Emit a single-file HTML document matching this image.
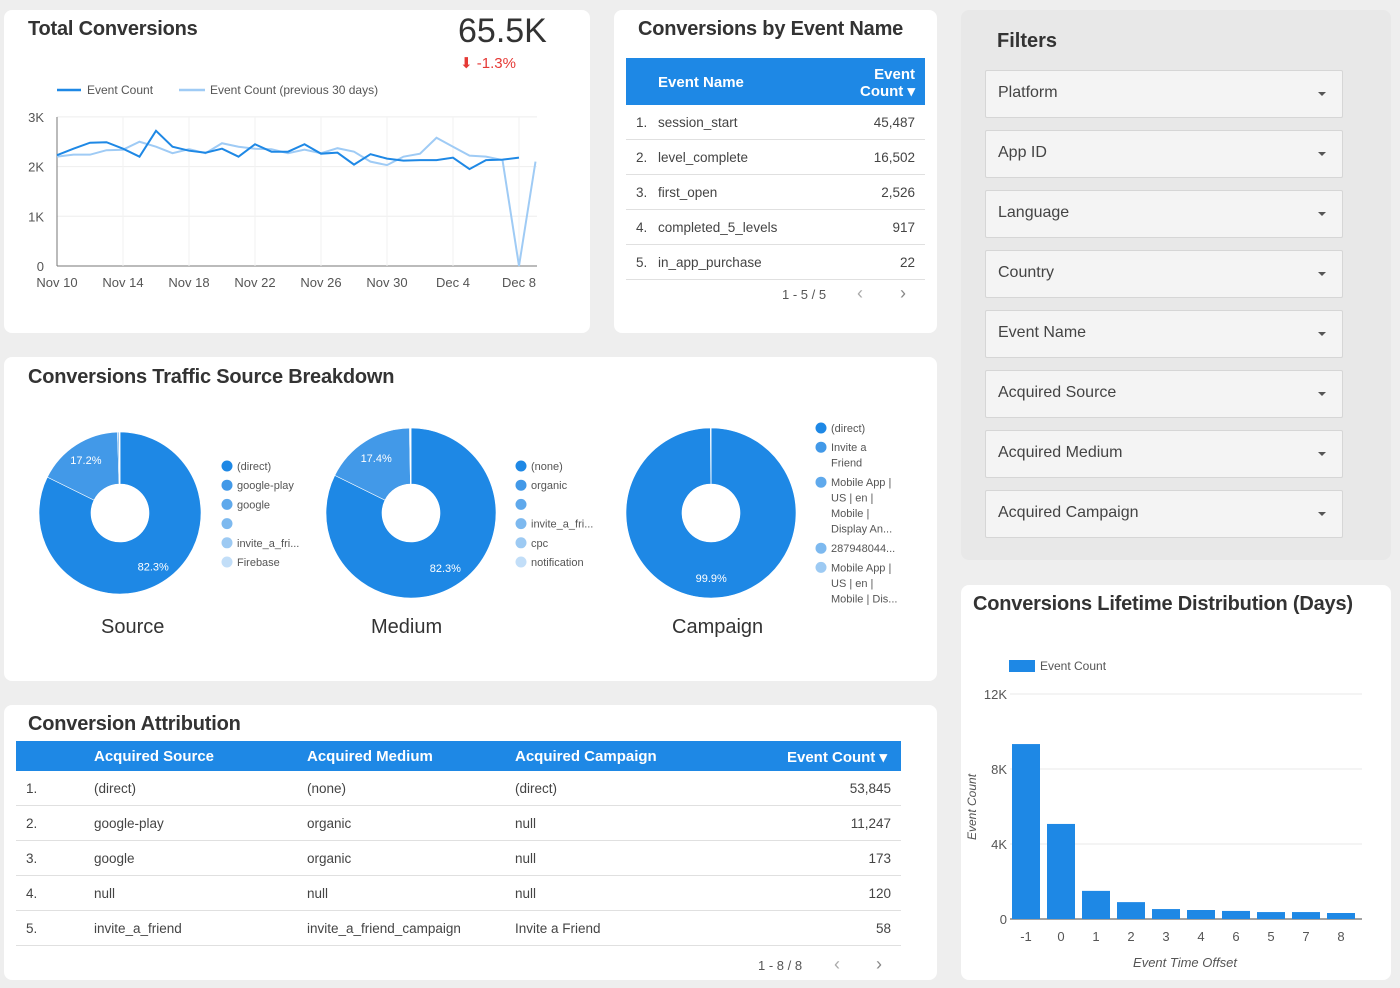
<!DOCTYPE html>
<html><head><meta charset="utf-8">
<style>
body{margin:0;width:1400px;height:988px;background:#eeeeee;font-family:"Liberation Sans",sans-serif;position:relative;overflow:hidden;color:#333}
.card{position:absolute;background:#fff;border-radius:8px}
.abs{position:absolute;white-space:nowrap}
.title{font-size:20px;color:#333;font-weight:bold;letter-spacing:-0.2px}
.hdr{position:absolute;background:#1e88e5;color:#fff;font-weight:bold;font-size:15px}
.row{position:absolute;font-size:13.5px;color:#444;border-bottom:1px solid #e0e0e0}
.dd{position:absolute;left:985px;width:356px;height:46px;border:1px solid #d6d6d6;background:#f4f4f4;border-radius:2px;font-size:16px;color:#444}
.dd span{position:absolute;left:12px;top:13px}
.dd i{position:absolute;right:16px;top:21px;border-left:4px solid transparent;border-right:4px solid transparent;border-top:4px solid #555}
</style></head><body>

<div class="card" style="left:4px;top:10px;width:586px;height:323px"></div>
<div class="card" style="left:614px;top:10px;width:323px;height:323px"></div>
<div class="card" style="left:961px;top:10px;width:430px;height:550px;background:#e8e8e8"></div>
<div class="card" style="left:4px;top:357px;width:933px;height:324px"></div>
<div class="card" style="left:4px;top:705px;width:933px;height:275px"></div>
<div class="card" style="left:961px;top:585px;width:430px;height:395px"></div>

<div class="abs title" style="left:28px;top:18px">Total Conversions</div>
<div class="abs" style="left:458px;top:12px;font-size:34px;color:#333">65.5K</div>
<div class="abs" style="left:460px;top:54px;font-size:15px;color:#e53935">⬇ -1.3%</div>

<svg class="abs" style="left:0;top:0" width="600" height="300" id="lc"></svg>

<div class="abs title" style="left:638px;top:18px">Conversions by Event Name</div>
<div class="hdr" style="left:626px;top:58px;width:299px;height:47px">
 <span class="abs" style="left:32px;top:16px">Event Name</span>
 <span class="abs" style="right:10px;top:8px;text-align:right;line-height:17px">Event<br>Count ▾</span>
</div>
<div id="et"></div>
<div class="abs" style="left:782px;top:287px;font-size:13px;color:#555">1 - 5 / 5</div>
<div class="abs" style="left:857px;top:283px;font-size:18px;color:#aaa">‹</div>
<div class="abs" style="left:900px;top:283px;font-size:18px;color:#888">›</div>

<div class="abs" style="left:997px;top:30px;font-size:20px;font-weight:bold;color:#333">Filters</div>
<div id="filters"></div>

<div class="abs title" style="left:28px;top:366px">Conversions Traffic Source Breakdown</div>
<svg class="abs" style="left:0;top:400px" width="940" height="250" id="donuts"></svg>
<div class="abs" style="left:101px;top:616px;font-size:20px;color:#333">Source</div>
<div class="abs" style="left:371px;top:616px;font-size:20px;color:#333">Medium</div>
<div class="abs" style="left:672px;top:616px;font-size:20px;color:#333">Campaign</div>

<div class="abs title" style="left:28px;top:713px">Conversion Attribution</div>
<div class="hdr" style="left:16px;top:741px;width:885px;height:30px">
 <span class="abs" style="left:78px;top:7px">Acquired Source</span>
 <span class="abs" style="left:291px;top:7px">Acquired Medium</span>
 <span class="abs" style="left:499px;top:7px">Acquired Campaign</span>
 <span class="abs" style="right:14px;top:7px">Event Count ▾</span>
</div>
<div id="at"></div>
<div class="abs" style="left:758px;top:958px;font-size:13px;color:#555">1 - 8 / 8</div>
<div class="abs" style="left:834px;top:954px;font-size:18px;color:#aaa">‹</div>
<div class="abs" style="left:876px;top:954px;font-size:18px;color:#888">›</div>

<div class="abs title" style="left:973px;top:593px">Conversions Lifetime Distribution (Days)</div>
<svg class="abs" style="left:960px;top:640px" width="420" height="340" id="bc"></svg>

<script>
const NS="http://www.w3.org/2000/svg";
function mk(p,t,a,txt){const e=document.createElementNS(NS,t);for(const k in a)e.setAttribute(k,a[k]);if(txt!==undefined)e.textContent=txt;p.appendChild(e);return e;}

// ---- line chart data
const lineDates=["Nov 10","Nov 14","Nov 18","Nov 22","Nov 26","Nov 30","Dec 4","Dec 8"];
const lineYTicks=[0,1000,2000,3000];
const lineYLabels=["0","1K","2K","3K"];
const currentSeries=[2230,2360,2480,2490,2360,2200,2720,2400,2320,2280,2360,2200,2450,2300,2300,2450,2260,2280,2040,2250,2160,2120,2130,2130,2180,1950,2130,2140,2180];
const previousSeries=[2200,2240,2240,2330,2340,2500,2400,2270,2350,2270,2470,2400,2360,2350,2270,2340,2270,2370,2300,2100,2030,2200,2260,2580,2400,2220,2200,2130,0,2100];
(function(){
 const s=document.getElementById('lc');
 const x=i=>57+i*16.5, y=v=>266-v/1000*49.7;
 lineYTicks.forEach((t,i)=>{
  const g=mk(s,'line',{x1:57,x2:537,y1:y(t),y2:y(t),stroke:i?'#eee':'#777','stroke-width':1});
  
  const l=mk(s,'text',{x:44,y:y(t)+5,'text-anchor':'end','font-size':13,fill:'#555'},lineYLabels[i]);
  
 });
 lineDates.forEach((d,i)=>{
  mk(s,'line',{x1:x(i*4),x2:x(i*4),y1:117,y2:266,stroke:'#f2f2f2'});
  const l=mk(s,'text',{x:x(i*4),y:287,'text-anchor':'middle','font-size':13,fill:'#555'},d);
  
 });
 mk(s,'line',{x1:57,x2:57,y1:117,y2:266,stroke:'#777'});
 const p1=mk(s,'polyline',{points:previousSeries.map((v,i)=>x(i)+','+y(v)).join(' '),fill:'none',stroke:'#9fcbf5','stroke-width':2});
 
 const p0=mk(s,'polyline',{points:currentSeries.map((v,i)=>x(i)+','+y(v)).join(' '),fill:'none',stroke:'#1e88e5','stroke-width':2});
 
 mk(s,'line',{x1:57,x2:81,y1:90,y2:90,stroke:'#1e88e5','stroke-width':2.5});
 const a=mk(s,'text',{x:87,y:94,'font-size':12,fill:'#555'},'Event Count');
 
 mk(s,'line',{x1:179,x2:205,y1:90,y2:90,stroke:'#9fcbf5','stroke-width':2.5});
 const b=mk(s,'text',{x:210,y:94,'font-size':12,fill:'#555'},'Event Count (previous 30 days)');
 
})();

// ---- event table
const eventNames=["session_start","level_complete","first_open","completed_5_levels","in_app_purchase"];
const eventCounts=["45,487","16,502","2,526","917","22"];
(function(){
 const c=document.getElementById('et');
 eventNames.forEach((n,i)=>{
  const r=document.createElement('div');r.className='row';
  
  
  r.style.cssText=`left:626px;top:${105+i*35}px;width:299px;height:34px`;
  r.innerHTML=`<span class="abs" style="left:10px;top:10px">${i+1}.</span><span class="abs" style="left:32px;top:10px">${n}</span><span class="abs" style="right:10px;top:10px">${eventCounts[i]}</span>`;
  c.appendChild(r);
 });
})();

// ---- filters
const filterNames=["Platform","App ID","Language","Country","Event Name","Acquired Source","Acquired Medium","Acquired Campaign"];
(function(){
 const c=document.getElementById('filters');
 filterNames.forEach((n,i)=>{
  const d=document.createElement('div');d.className='dd';
  
  
  d.style.top=(70+i*60)+'px';
  d.innerHTML=`<span>${n}</span><i></i>`;
  c.appendChild(d);
 });
})();

// ---- donuts
const sourceShares=[82.3,17.2,0.3,0.1,0.05,0.05];
const sourceLabels=["(direct)","google-play","google","","invite_a_fri...","Firebase"];
const mediumShares=[82.3,17.4,0.15,0.1,0.03,0.02];
const mediumLabels=["(none)","organic","","invite_a_fri...","cpc","notification"];
const campaignShares=[99.9,0.05,0.03,0.01,0.01];
const campaignLabels=["(direct)","Invite a;Friend","Mobile App |;US | en |;Mobile |;Display An...","287948044...","Mobile App |;US | en |;Mobile | Dis..."];
const shades=["#1e88e5","#4299e8","#5fa9ec","#7db9ef","#9dcaf3","#c2def8"];
(function(){
 const s=document.getElementById('donuts');
 function donut(cx,cy,r,hole,vals,name){
  const tot=vals.reduce((a,b)=>a+b,0);let a0=-Math.PI/2;
  vals.forEach((v,i)=>{
   const a1=a0+v/tot*2*Math.PI;
   const large=(a1-a0)>Math.PI?1:0;
   const pt=(a,rr)=>[cx+rr*Math.cos(a),cy+rr*Math.sin(a)];
   const [x0,y0]=pt(a0,r),[x1,y1]=pt(a1,r),[x2,y2]=pt(a1,hole),[x3,y3]=pt(a0,hole);
   let d;
   if(v/tot>0.9999){d=`M${cx-r},${cy}A${r},${r} 0 1 1 ${cx+r},${cy}A${r},${r} 0 1 1 ${cx-r},${cy}Z`;}
   else d=`M${x0},${y0}A${r},${r} 0 ${large} 1 ${x1},${y1}L${x2},${y2}A${hole},${hole} 0 ${large} 0 ${x3},${y3}Z`;
   const p=mk(s,'path',{d,fill:shades[i],stroke:'#fff','stroke-width':0.6,'fill-rule':'evenodd'});
   
   if(v/tot>0.1){
    const am=(a0+a1)/2,rm=(r+hole)/2+8;
    const t=mk(s,'text',{x:cx+rm*Math.cos(am),y:cy+rm*Math.sin(am)+4,'text-anchor':'middle','font-size':11,fill:'#fff'},v.toFixed(1)+'%');
    
   }
   a0=a1;
  });
  mk(s,'circle',{cx,cy,r:hole,fill:'#fff'});
 }
 function legend(x,y0,labels,name){
  let y=y0;
  labels.forEach((l,i)=>{
   mk(s,'circle',{cx:x,cy:y,r:5.5,fill:shades[i]});
   const parts=l.split(';');
   parts.forEach((p,j)=>{
    const t=mk(s,'text',{x:x+10,y:y+4+j*15.5,'font-size':11,fill:'#555'},p);
    
   });
   y+=parts.length*15.5+(parts.length>1?4:3.7);
  });
 }
 donut(120,113,81,29,sourceShares,'source');
 legend(227,66,sourceLabels,'source');
 donut(411,113,85,29,mediumShares,'medium');
 legend(521,66,mediumLabels,'medium');
 donut(711,113,85,29,campaignShares,'campaign');
 legend(821,28,campaignLabels,'campaign');
})();

// ---- attribution table
const attrSource=["(direct)","google-play","google","null","invite_a_friend"];
const attrMedium=["(none)","organic","organic","null","invite_a_friend_campaign"];
const attrCampaign=["(direct)","null","null","null","Invite a Friend"];
const attrCount=["53,845","11,247","173","120","58"];
(function(){
 const c=document.getElementById('at');
 attrSource.forEach((n,i)=>{
  const r=document.createElement('div');r.className='row';
  
  
  r.style.cssText=`left:16px;top:${771+i*35}px;width:885px;height:34px`;
  r.innerHTML=`<span class="abs" style="left:10px;top:10px">${i+1}.</span><span class="abs" style="left:78px;top:10px">${n}</span><span class="abs" style="left:291px;top:10px">${attrMedium[i]}</span><span class="abs" style="left:499px;top:10px">${attrCampaign[i]}</span><span class="abs" style="right:10px;top:10px">${attrCount[i]}</span>`;
  c.appendChild(r);
 });
})();

// ---- bar chart
const barCategories=["-1","0","1","2","3","4","6","5","7","8"];
const barValues=[9330,5070,1500,900,530,480,430,370,370,320];
const barYTicks=[0,4000,8000,12000];
const barYLabels=["0","4K","8K","12K"];
(function(){
 const s=document.getElementById('bc');
 const y=v=>279-v/1000*18.75, x0=52, step=35;
 barYTicks.forEach((t,i)=>{
  mk(s,'line',{x1:50,x2:402,y1:y(t),y2:y(t),stroke:i?'#e8e8e8':'#444'});
  const l=mk(s,'text',{x:47,y:y(t)+5,'text-anchor':'end','font-size':13,fill:'#555'},barYLabels[i]);
  
 });
 barCategories.forEach((c,i)=>{
  const r=mk(s,'rect',{x:x0+i*step,y:y(barValues[i]),width:28,height:279-y(barValues[i]),fill:'#1e88e5'});
  
  const t=mk(s,'text',{x:x0+i*step+14,y:301,'text-anchor':'middle','font-size':13,fill:'#555'},c);
  
 });
 mk(s,'rect',{x:49,y:20,width:26,height:12,fill:'#1e88e5'});
 const lg=mk(s,'text',{x:80,y:30,'font-size':12,fill:'#555'},'Event Count');
 
 const xt=mk(s,'text',{x:225,y:327,'text-anchor':'middle','font-size':13,'font-style':'italic',fill:'#555'},'Event Time Offset');
 
 const yt=mk(s,'text',{x:0,y:0,'text-anchor':'middle','font-size':12,'font-style':'italic',fill:'#555',transform:'translate(16,167) rotate(-90)'},'Event Count');
 
})();
</script>
</body></html>
